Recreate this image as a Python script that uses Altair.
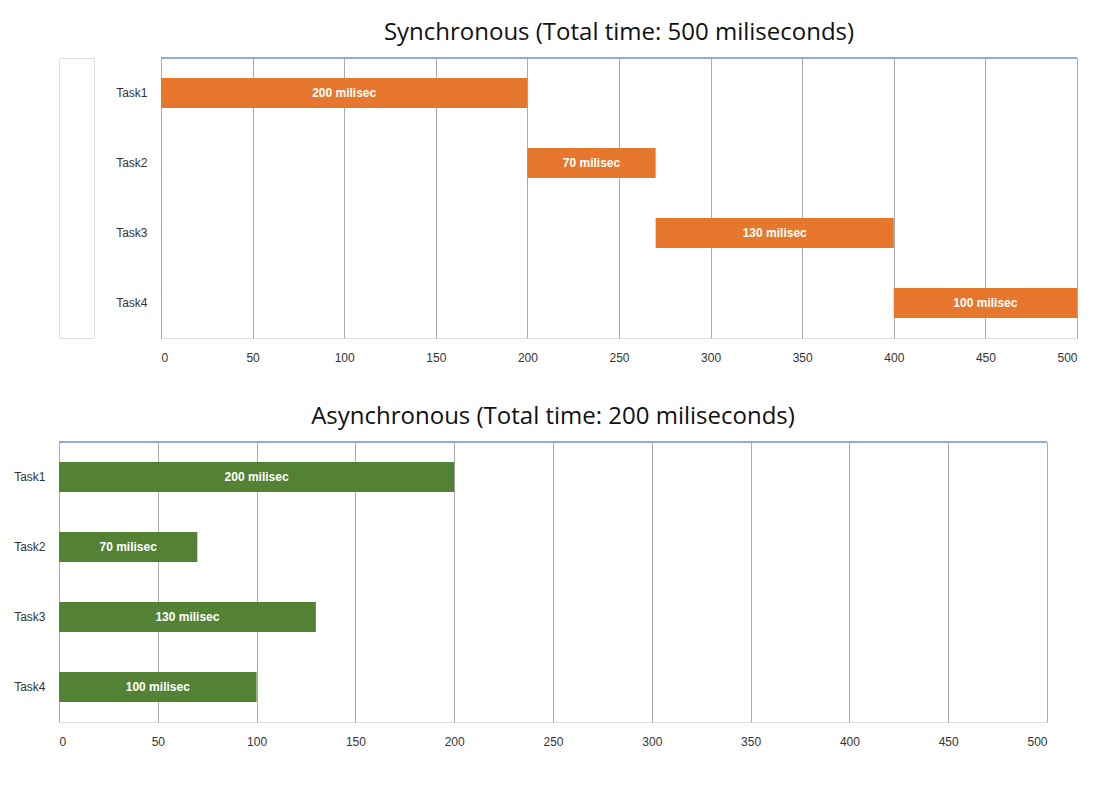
import altair as alt
import pandas as pd

tasks = ["Task1", "Task2", "Task3", "Task4"]
durations = [200, 70, 130, 100]
labels = ["200 milisec", "70 milisec", "130 milisec", "100 milisec"]
sync_start = [0, 200, 270, 400]
async_start = [0, 0, 0, 0]

def panel(starts, color, title, width):
    df = pd.DataFrame({"task": tasks, "start": starts,
                       "end": [s + d for s, d in zip(starts, durations)],
                       "label": labels})
    df["mid"] = (df["start"] + df["end"]) / 2
    x = alt.X("start:Q", scale=alt.Scale(domain=[0, 500], nice=False),
              axis=alt.Axis(values=list(range(0, 501, 50)), title=None, grid=True,
                            gridColor="#aaaaaa", domain=False, ticks=False,
                            labelFontSize=12, labelPadding=14, labelColor="#333"))
    y = alt.Y("task:N", sort=tasks, title=None,
              axis=alt.Axis(domain=False, ticks=False, labelFontSize=12,
                            labelPadding=14, labelColor="#333"))
    bars = alt.Chart(df).mark_bar(color=color, height=30).encode(x=x, x2="end:Q", y=y)
    text = alt.Chart(df).mark_text(color="white", fontWeight="bold", fontSize=12).encode(
        x="mid:Q", y=alt.Y("task:N", sort=tasks), text="label:N")
    top = alt.Chart(df).mark_rule(color="#8faadc", strokeWidth=1.5).encode(
        x=alt.value(0), x2=alt.value(width), y=alt.value(0))
    return alt.layer(top, bars, text).properties(
        width=width, height=280,
        title=alt.TitleParams(title, fontSize=24, fontWeight="normal",
                              font="Open Sans", color="#111", offset=12))

c1 = panel(sync_start, "#E8772E", "Synchronous (Total time: 500 miliseconds)", 916)
c2 = panel(async_start, "#548235", "Asynchronous (Total time: 200 miliseconds)", 988)

spacer = alt.Chart(pd.DataFrame({"a": [0]})).mark_point(opacity=0).encode(
    x=alt.X("a:Q", axis=None), y=alt.Y("a:Q", axis=None)).properties(width=35, height=280)

row1 = alt.hconcat(spacer, c1, spacing=20)
chart = alt.vconcat(row1, c2, spacing=40).configure_view(stroke=None).configure(background="white", padding={"left": 5, "top": 12, "right": 5, "bottom": 5})
chart.save("out.html", embed_options={"renderer": "svg", "actions": False})
